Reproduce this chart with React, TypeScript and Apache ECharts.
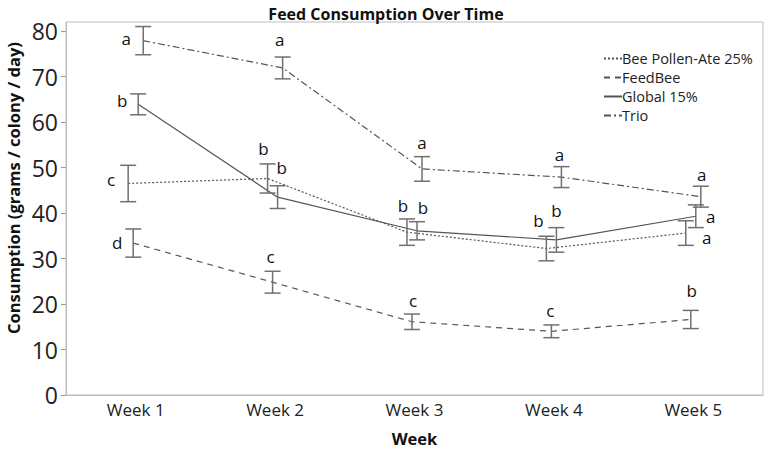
import React, { useEffect, useRef } from "react";
import * as echarts from "echarts";

const WEEKS = ["Week 1", "Week 2", "Week 3", "Week 4", "Week 5"];
const SERIES_NAMES = ["Bee Pollen-Ate 25%", "FeedBee", "Global 15%", "Trio"];

const BEE_POLLEN = [46.5, 47.6, 35.8, 32.2, 35.6];
const BEE_POLLEN_ERR = [4.0, 3.2, 2.9, 2.7, 2.7];
const FEEDBEE = [33.4, 24.8, 16.1, 14.0, 16.6];
const FEEDBEE_ERR = [3.1, 2.4, 1.7, 1.4, 2.0];
const GLOBAL = [63.9, 43.5, 36.1, 34.1, 39.3];
const GLOBAL_ERR = [2.3, 2.5, 2.0, 2.7, 2.5];
const TRIO = [77.9, 71.9, 49.7, 47.9, 43.6];
const TRIO_ERR = [3.1, 2.4, 2.7, 2.3, 2.3];

const BEE_POLLEN_LETTERS = ["c", "b", "b", "b", "a"];
const FEEDBEE_LETTERS = ["d", "c", "c", "c", "b"];
const GLOBAL_LETTERS = ["b", "b", "b", "b", "a"];
const TRIO_LETTERS = ["a", "a", "a", "a", "a"];

const Y_TICKS = [0, 10, 20, 30, 40, 50, 60, 70, 80];

// presentation (not data)
const VALUES = [BEE_POLLEN, FEEDBEE, GLOBAL, TRIO];
const ERRS = [BEE_POLLEN_ERR, FEEDBEE_ERR, GLOBAL_ERR, TRIO_ERR];
const LETTERS = [BEE_POLLEN_LETTERS, FEEDBEE_LETTERS, GLOBAL_LETTERS, TRIO_LETTERS];
const DODGE = [-0.054, -0.018, 0.018, 0.054];
const LINE_TYPES: any[] = [[2, 2], [6, 5], "solid", [7, 3, 2, 3]];
// [anchor, dx, dy]: anchor "l" = relative to point centre, "t" = relative to top cap
const LABEL_POS: any[][] = [
  [["l", -17, -4], ["t", -4, -15], ["t", -4, -13], ["t", -8, -16], ["l", 21, 4]],
  [["l", -16, -1], ["t", -2, -15], ["t", 1, -14], ["t", -1, -14], ["t", 1, -20]],
  [["l", -16, -4], ["t", 4, -18], ["t", 6, -14], ["t", 0, -17], ["l", 15, 0]],
  [["l", -17, -2], ["t", -3, -18], ["t", 0, -14], ["t", -2, -12], ["t", 1, -12]],
];

const FONT = "'Open Sans', 'DejaVu Sans', sans-serif";

export default function App() {
  const ref = useRef<HTMLDivElement>(null);
  useEffect(() => {
    document.body.style.margin = "0";
    const chart = echarts.init(ref.current!, null, { renderer: "svg" });

    const lineSeries = SERIES_NAMES.map((name, si) => ({
      name,
      type: "line",
      xAxisIndex: 1,
      yAxisIndex: 0,
      symbol: "none",
      showSymbol: false,
      data: VALUES[si].map((v, wi) => [wi + DODGE[si], v]),
      lineStyle: { color: "#555", width: 1.2, type: LINE_TYPES[si] },
      itemStyle: { color: "#555" },
      z: 2,
    }));

    const errData: number[][] = [];
    VALUES.forEach((vals, si) => {
      vals.forEach((v, wi) => {
        errData.push([wi + DODGE[si], v - ERRS[si][wi], v + ERRS[si][wi], v, si, wi]);
      });
    });

    const errSeries = {
      type: "custom",
      name: "errors",
      xAxisIndex: 1,
      yAxisIndex: 0,
      z: 3,
      silent: true,
      data: errData,
      renderItem: (params: any, api: any) => {
        const x = api.value(0);
        const lo = api.value(1);
        const hi = api.value(2);
        const mid = api.value(3);
        const si = api.value(4);
        const wi = api.value(5);
        const pTop = api.coord([x, hi]);
        const pBot = api.coord([x, lo]);
        const pMid = api.coord([x, mid]);
        const hw = 8;
        const st = { stroke: "#707070", lineWidth: 1.5 };
        const pos = LABEL_POS[si][wi];
        const base = pos[0] === "l" ? pMid : pTop;
        return {
          type: "group",
          children: [
            { type: "line", shape: { x1: pTop[0], y1: pTop[1], x2: pBot[0], y2: pBot[1] }, style: st },
            { type: "line", shape: { x1: pTop[0] - hw, y1: pTop[1], x2: pTop[0] + hw, y2: pTop[1] }, style: st },
            { type: "line", shape: { x1: pBot[0] - hw, y1: pBot[1], x2: pBot[0] + hw, y2: pBot[1] }, style: st },
            {
              type: "text",
              x: base[0] + pos[1],
              y: base[1] + pos[2],
              style: {
                text: LETTERS[si][wi],
                fill: "#111",
                fontSize: 17,
                fontFamily: FONT,
                align: "center",
                verticalAlign: "middle",
              },
            },
          ],
        };
      },
    };

    chart.setOption({
      animation: false,
      backgroundColor: "#ffffff",
      title: {
        text: "Feed Consumption Over Time",
        left: 381,
        textAlign: "center",
        top: 1,
        textStyle: { fontFamily: FONT, fontSize: 16, fontWeight: "bold", color: "#111" },
      },
      legend: {
        data: SERIES_NAMES,
        orient: "vertical",
        left: 598,
        top: 46,
        itemWidth: 18,
        itemHeight: 10,
        itemGap: 4,
        itemStyle: { opacity: 0 },
        textStyle: { fontFamily: FONT, fontSize: 14.5, color: "#222", padding: [0, 0, 0, -5] },
        inactiveColor: "#555",
      },
      grid: {
        left: 66,
        right: 5,
        top: 22,
        bottom: 47,
        show: true,
        borderColor: "#bdbdbd",
        borderWidth: 1,
        backgroundColor: "transparent",
      },
      xAxis: [
        {
          type: "category",
          data: WEEKS,
          boundaryGap: true,
          axisLine: { show: true, lineStyle: { color: "#bdbdbd" } },
          axisTick: { show: false },
          axisLabel: { fontFamily: FONT, fontSize: 17, color: "#222", margin: 6 },
          name: "Week",
          nameLocation: "middle",
          nameGap: 35,
          nameTextStyle: { fontFamily: FONT, fontSize: 16.5, fontWeight: "bold", color: "#111" },
          splitLine: { show: false },
        },
        {
          type: "value",
          min: -0.5,
          max: 4.5,
          show: false,
          axisLine: { show: false, onZero: false },
          splitLine: { show: false },
        },
      ],
      yAxis: {
        type: "value",
        min: Y_TICKS[0],
        max: 82,
        interval: 10,
        axisLine: { show: true, onZero: false, lineStyle: { color: "#bdbdbd" } },
        axisTick: { show: true, length: 5, lineStyle: { color: "#999" } },
        axisLabel: {
          fontFamily: FONT,
          fontSize: 23,
          color: "#222",
          margin: 8,
          showMaxLabel: false,
          formatter: (v: number) => (Y_TICKS.includes(v) ? String(v) : ""),
        },
        splitLine: { show: false },
      },
      graphic: [
        {
          type: "text",
          x: 13,
          y: 188,
          rotation: Math.PI / 2,
          style: {
            text: "Consumption (grams / colony / day)",
            fontFamily: FONT,
            fontSize: 16.5,
            fontWeight: "bold",
            fill: "#111",
            align: "center",
            verticalAlign: "middle",
          },
        },
      ],
      series: [...lineSeries, errSeries],
    });

    return () => chart.dispose();
  }, []);

  return <div ref={ref} style={{ width: 768, height: 452 }} />;
}
